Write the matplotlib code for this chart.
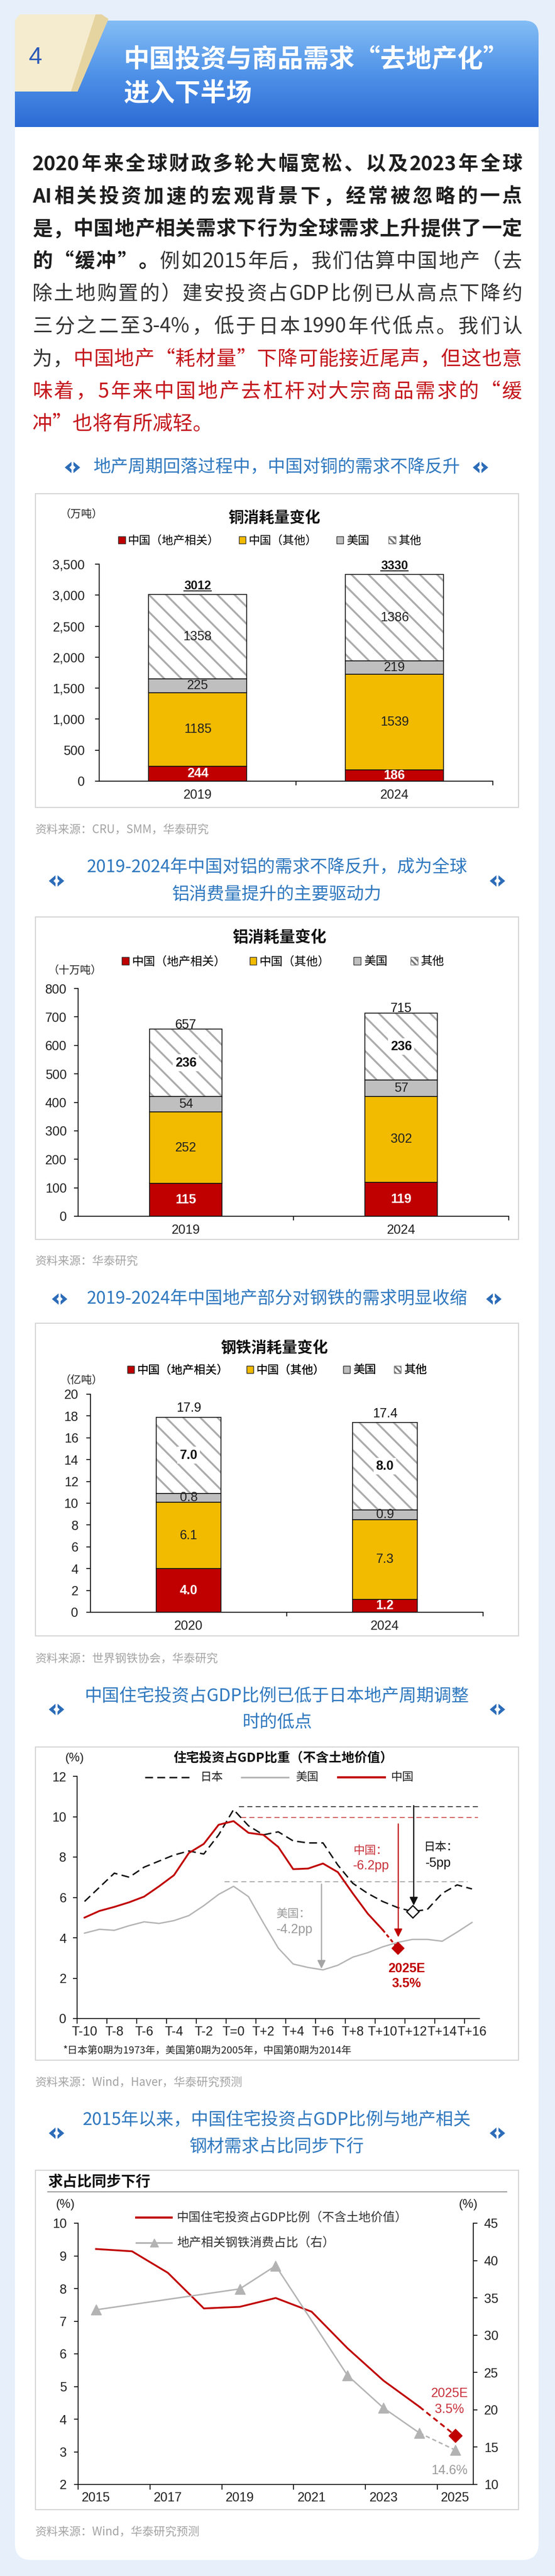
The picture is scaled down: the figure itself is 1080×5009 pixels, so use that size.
import re
import numpy as np
import matplotlib
matplotlib.use('Agg')
import matplotlib.pyplot as plt
from matplotlib.patches import Rectangle, Polygon, FancyBboxPatch, Patch
from matplotlib.colors import LinearSegmentedColormap
from matplotlib.font_manager import FontProperties

plt.rcParams['font.family'] = ['Noto Sans CJK SC', 'DejaVu Sans']
plt.rcParams['hatch.linewidth'] = 2.6
plt.rcParams['axes.unicode_minus'] = False

# ---- data ----
copper_years = ['2019', '2024']
copper_cn_property = [244, 186]
copper_cn_other = [1185, 1539]
copper_us = [225, 219]
copper_rest = [1358, 1386]
copper_total = [3012, 3330]
copper_yticks = [0, 500, 1000, 1500, 2000, 2500, 3000, 3500]

alu_years = ['2019', '2024']
alu_cn_property = [115, 119]
alu_cn_other = [252, 302]
alu_us = [54, 57]
alu_rest = [236, 236]
alu_total = [657, 715]
alu_yticks = [0, 100, 200, 300, 400, 500, 600, 700, 800]

steel_years = ['2020', '2024']
steel_cn_property = [4.0, 1.2]
steel_cn_other = [6.1, 7.3]
steel_us = [0.8, 0.9]
steel_rest = [7.0, 8.0]
steel_total = [17.9, 17.4]
steel_yticks = [0, 2, 4, 6, 8, 10, 12, 14, 16, 18, 20]

bar_legend_labels = ['中国（地产相关）', '中国（其他）', '美国', '其他']

periods = list(range(-10, 17))
japan = [5.8, 6.5, 7.2, 7.0, 7.5, 7.8, 8.1, 8.3, 8.15, 9.1, 10.35, 9.55, 9.1, 9.25,
         8.8, 8.7, 8.7, 7.6, 6.7, 6.2, 5.8, 5.5, 5.3, 5.4, 6.2, 6.62, 6.42]
usa = [4.23, 4.42, 4.37, 4.6, 4.79, 4.71, 4.85, 5.1, 5.59, 6.15, 6.55, 6.04, 4.74, 3.49,
       2.7, 2.53, 2.41, 2.64, 3.04, 3.26, 3.55, 3.77, 3.92, 3.92, 3.83, 4.28, 4.76]
china_periods = list(range(-10, 11))
china = [5.0, 5.33, 5.53, 5.76, 6.04, 6.55, 7.1, 8.2, 8.65, 9.6, 9.78, 9.2, 9.1, 8.5,
         7.4, 7.43, 7.68, 7.25, 6.2, 5.2, 4.4]
china_2025e = (11, 3.5)
japan_low = (12, 5.3)
period_ticks = [-10, -8, -6, -4, -2, 0, 2, 4, 6, 8, 10, 12, 14, 16]
period_labels = ['T-10', 'T-8', 'T-6', 'T-4', 'T-2', 'T=0', 'T+2', 'T+4', 'T+6',
                 'T+8', 'T+10', 'T+12', 'T+14', 'T+16']
japan_peak, china_peak, us_peak = 10.5, 9.95, 6.77

inv_years = [2015, 2016, 2017, 2018, 2019, 2020, 2021, 2022, 2023, 2024]
inv_ratio = [9.21, 9.14, 8.48, 7.39, 7.44, 7.71, 7.29, 6.17, 5.18, 4.38]
inv_2025e = 3.5
steel_share_years = [2015, 2019, 2020, 2022, 2023, 2024]
steel_share = [33.4, 36.2, 39.3, 24.6, 20.25, 16.9]
steel_share_2025e = 14.6
year_ticks = [2015, 2017, 2019, 2021, 2023, 2025]

# ---- style ----
W, H = 1080, 5009
NUM = ['Liberation Sans', 'Noto Sans CJK SC', 'DejaVu Sans']
CJK = ['Noto Sans CJK SC', 'DejaVu Sans']
RED = '#c00000'
GOLD = '#f2bb00'
GREY = '#bfbfbf'
HATCH_C = '#ababab'
BLUE_T = '#2f78bf'
SRC_C = '#a3a3a3'

fig = plt.figure(figsize=(W / 100, H / 100), dpi=100)
fig.patch.set_facecolor('#e6effa')
bg = fig.add_axes([0, 0, 1, 1])
bg.axis('off')
renderer = fig.canvas.get_renderer()

# card + header
bg.add_patch(FancyBboxPatch((29, 80), 1019, 4898, boxstyle='round,pad=0,rounding_size=32',
                            fc='white', ec='none', zorder=1))
grad = np.linspace(0, 1, 256)[:, None]
cmap = LinearSegmentedColormap.from_list('hdr', ['#84bdf5', '#4f92e8', '#2d6bd5'])
im = bg.imshow(grad, extent=(29, 1048, 247, 40), cmap=cmap, aspect='auto', zorder=2)
clip = FancyBboxPatch((29, 40), 1019, 320, boxstyle='round,pad=0,rounding_size=28',
                      fc='none', ec='none', transform=bg.transData)
bg.add_patch(clip)
im.set_clip_path(clip)
bg.add_patch(Polygon([(29, 40), (38, 28), (196, 28), (210, 36), (150, 178), (29, 178)],
                     closed=True, fc='#f5ecd0', ec='none', zorder=3))
bg.add_patch(Polygon([(186, 28), (198, 28), (211, 37), (151, 178), (138, 178)],
                     closed=True, fc='#e6d4a0', ec='none', zorder=3))
bg.text(69, 112, '4', color='#2b59b8', size=34, family=NUM, ha='center', va='center', zorder=4)
bg.text(241, 117, '中国投资与商品需求“去地产化”', color='white', size=36, weight='bold',
        ha='left', va='center', zorder=4)
bg.text(241, 183, '进入下半场', color='white', size=36, weight='bold',
        ha='left', va='center', zorder=4)

# body text, justified
STY = {'b': ('#1e1e1e', 'bold'), 'n': ('#333333', 'normal'), 'r': ('#c4161c', 'normal')}
_adv = {}


def advance(tok, prop):
    key = (tok, str(prop.get_weight()), prop.get_size())
    if key not in _adv:
        w1 = renderer.get_text_width_height_descent('中' + tok + '中', prop, ismath=False)[0]
        w0 = renderer.get_text_width_height_descent('中中', prop, ismath=False)[0]
        _adv[key] = w1 - w0
    return _adv[key]


def draw_line(segs, y, justify=True, x0=63, x1=1016, size=28):
    toks = []
    for text, st in segs:
        col, wt = STY[st]
        prop = FontProperties(family=CJK, size=size, weight=wt)
        for t in re.findall(r'[A-Za-z0-9%.\-]+|.', text):
            toks.append((t, prop, col, advance(t, prop)))
    total = sum(tk[3] for tk in toks)
    gap = (x1 - x0 - total) / (len(toks) - 1) if justify else 0
    x = x0
    for t, prop, col, a in toks:
        bg.text(x, y, t, fontproperties=prop, color=col, ha='left', va='baseline', zorder=4)
        x += a + gap


body = [
    [('2020年来全球财政多轮大幅宽松、以及2023年全球', 'b')],
    [('AI相关投资加速的宏观背景下，经常被忽略的一点', 'b')],
    [('是，中国地产相关需求下行为全球需求上升提供了一定', 'b')],
    [('的“缓冲”。', 'b'), ('例如2015年后，我们估算中国地产（去', 'n')],
    [('除土地购置的）建安投资占GDP比例已从高点下降约', 'n')],
    [('三分之二至3-4%，低于日本1990年代低点。我们认', 'n')],
    [('为，', 'n'), ('中国地产“耗材量”下降可能接近尾声，但这也意', 'r')],
    [('味着，5年来中国地产去杠杆对大宗商品需求的“缓', 'r')],
    [('冲”也将有所减轻。', 'r')],
]
for i, segs in enumerate(body):
    draw_line(segs, 317 + 63.1 * i + 14, justify=(i < len(body) - 1))


def icon(cx, cy):
    c = '#2c6cb8'
    bg.add_patch(Polygon([(cx - 15, cy), (cx - 2, cy - 11), (cx - 2, cy - 4), (cx - 6, cy),
                          (cx - 2, cy + 4), (cx - 2, cy + 11)], closed=True, fc=c, ec='none', zorder=4))
    bg.add_patch(Polygon([(cx + 15, cy), (cx + 2, cy - 11), (cx + 2, cy - 4), (cx + 6, cy),
                          (cx + 2, cy + 4), (cx + 2, cy + 11)], closed=True, fc=c, ec='none', zorder=4))


def subtitle(lines, y0, icons, dy=52):
    for i, s in enumerate(lines):
        bg.text(539, y0 + i * dy, s, color=BLUE_T, size=24.5, ha='center', va='center', zorder=4)
    yc = y0 + dy * (len(lines) - 1) / 2
    for cx in icons:
        icon(cx, yc)


def chart_box(y0, y1):
    bg.add_patch(Rectangle((69, y0), 940, y1 - y0, fc='white', ec='#d4d4d4', lw=1.5, zorder=2))


def source(y, s):
    bg.text(69, y, s, color=SRC_C, size=16, ha='left', va='center', zorder=4)


def px_axes(x0, y0, x1, y1):
    ax = fig.add_axes([x0 / W, 1 - y1 / H, (x1 - x0) / W, (y1 - y0) / H])
    ax.patch.set_alpha(0)
    for s in ['top', 'right']:
        ax.spines[s].set_visible(False)
    for s in ['left', 'bottom']:
        ax.spines[s].set_linewidth(1.3)
        ax.spines[s].set_color('#111')
    ax.tick_params(which='both', direction='out', length=6, width=1.3, color='#111',
                   labelcolor='#222')
    return ax


def bar_legend(cx, cy, size, colsp):
    handles = [Patch(fc=RED, ec='#333', lw=1), Patch(fc=GOLD, ec='#333', lw=1),
               Patch(fc=GREY, ec='#333', lw=1), Patch(fc='white', ec='#777', lw=1, hatch='\\\\\\')]
    leg = bg.legend(handles, bar_legend_labels, loc='center', bbox_to_anchor=(cx, cy),
                    bbox_transform=bg.transData, ncol=4, frameon=False,
                    prop=FontProperties(family=CJK, size=size), handlelength=0.6,
                    handleheight=0.6, handletextpad=0.25, columnspacing=colsp, borderpad=0)
    leg.set_zorder(5)
    bg.add_artist(leg)


def stacked(ax, cats, parts, totals, width, ylim, fmt, rest_bold, total_mode):
    ax.set_xlim(-0.5, 1.5)
    ax.set_ylim(*ylim)
    x = np.arange(len(cats))
    bottom = np.zeros(len(cats))
    for vals, c in zip(parts[:3], [RED, GOLD, GREY]):
        ax.bar(x, vals, width, bottom=bottom, color=c, edgecolor='#111', lw=1.2, zorder=2)
        bottom = bottom + np.array(vals)
    ax.bar(x, parts[3], width, bottom=bottom, color='white', edgecolor=HATCH_C, hatch='\\',
           lw=0, zorder=2)
    ax.bar(x, parts[3], width, bottom=bottom, fill=False, edgecolor='#111', lw=1.2, zorder=3)
    for i in range(len(cats)):
        b = 0
        for k, vals in enumerate(parts):
            v = vals[i]
            yc = b + v / 2
            b += v
            kw = dict(ha='center', va='center', family=NUM, size=18, zorder=5)
            if k == 0:
                ax.text(i, yc, fmt.format(v), color='white', weight='bold', **kw)
            elif k == 3 and rest_bold:
                ax.text(i, yc, fmt.format(v), color='#111', weight='bold',
                        bbox=dict(fc='white', ec='none', pad=3), **kw)
            else:
                ax.text(i, yc, fmt.format(v), color='#222', **kw)
        t = totals[i]
        s = fmt.format(t)
        if total_mode == 'underline':
            # bold label with underline, drawn in page pixels
            px, py = ax.transData.transform((i, t))
            py = H - py
            prop = FontProperties(family=NUM, size=17, weight='bold')
            w = renderer.get_text_width_height_descent(s, prop, ismath=False)[0]
            bg.text(px, py - 10, s, fontproperties=prop, color='#111', ha='center',
                    va='baseline', zorder=5)
            bg.plot([px - w / 2, px + w / 2], [py - 7, py - 7], color='#111', lw=1.4, zorder=5)
        elif total_mode == 'touch':
            ax.annotate(s, (i, t), xytext=(0, 6), textcoords='offset points',
                        ha='center', va='center', size=18, family=NUM, color='#111', zorder=5)
        else:
            ax.annotate(s, (i, t), xytext=(0, 4), textcoords='offset points',
                        ha='center', va='bottom', size=18, family=NUM, color='#111', zorder=5)
    ax.set_xticks(x, cats, family=NUM, size=18)
    ax.set_xticks([0.5, 1.5], minor=True)
    ax.tick_params(axis='x', which='major', length=0, pad=11)


# ---- chart 1: copper ----
subtitle(['地产周期回落过程中，中国对铜的需求不降反升'], 909, [141, 935])
chart_box(960, 1570)
bg.text(158, 1001, '（万吨）', size=15, color='#222', ha='center', va='center', zorder=4)
bg.text(534, 1007, '铜消耗量变化', size=21.5, weight='bold', color='#111',
        ha='center', va='center', zorder=4)
bar_legend(525, 1051, 16, 1.7)
ax1 = px_axes(193, 1097, 959, 1519)
stacked(ax1, copper_years, [copper_cn_property, copper_cn_other, copper_us, copper_rest],
        copper_total, 0.5, (0, 3500), '{:d}', False, 'underline')
ax1.set_yticks(copper_yticks, [f'{v:,}' for v in copper_yticks], family=NUM, size=18)
ax1.tick_params(axis='y', pad=14)
source(1614, '资料来源：CRU，SMM，华泰研究')

# ---- chart 2: aluminium ----
subtitle(['2019-2024年中国对铝的需求不降反升，成为全球', '铝消费量提升的主要驱动力'], 1687, [110, 968])
chart_box(1783, 2410)
bg.text(544, 1823, '铝消耗量变化', size=22, weight='bold', color='#111',
        ha='center', va='center', zorder=4)
bar_legend(551, 1870, 16.5, 2.0)
bg.text(146, 1888, '（十万吨）', size=15, color='#222', ha='center', va='center', zorder=4)
ax2 = px_axes(152, 1922, 990, 2365)
stacked(ax2, alu_years, [alu_cn_property, alu_cn_other, alu_us, alu_rest],
        alu_total, 0.335, (0, 800), '{:d}', True, 'touch')
ax2.set_yticks(alu_yticks, [str(v) for v in alu_yticks], family=NUM, size=18)
ax2.tick_params(axis='y', pad=10)
source(2453, '资料来源：华泰研究')

# ---- chart 3: steel ----
subtitle(['2019-2024年中国地产部分对钢铁的需求明显收缩'], 2526, [116, 961])
chart_box(2573, 3181)
bg.text(534, 2622, '钢铁消耗量变化', size=21.5, weight='bold', color='#111',
        ha='center', va='center', zorder=4)
bar_legend(539, 2664, 16, 1.6)
bg.text(158, 2684, '（亿吨）', size=15, color='#222', ha='center', va='center', zorder=4)
ax3 = px_axes(176, 2711, 940, 3135)
stacked(ax3, steel_years, [steel_cn_property, steel_cn_other, steel_us, steel_rest],
        steel_total, 0.33, (0, 20), '{:.1f}', True, 'above')
ax3.set_yticks(steel_yticks, [str(v) for v in steel_yticks], family=NUM, size=18)
ax3.tick_params(axis='y', pad=11)
source(3226, '资料来源：世界钢铁协会，华泰研究')

# ---- chart 4: residential investment cycles ----
subtitle(['中国住宅投资占GDP比例已低于日本地产周期调整', '时的低点'], 3299, [110, 968], dy=50)
chart_box(3397, 4006)
bg.text(145, 3419, '(%)', size=17, family=NUM, color='#222', ha='center', va='center', zorder=4)
bg.text(551, 3419, '住宅投资占GDP比重（不含土地价值）', size=18, weight='bold', color='#111',
        ha='center', va='center', zorder=4)
bg.plot([282, 375], [3456, 3456], color='#111', lw=2, ls=(0, (5.5, 3)), zorder=4)
bg.text(389, 3456, '日本', size=16, color='#222', ha='left', va='center', zorder=4)
bg.plot([470, 561], [3456, 3456], color='#b3b3b3', lw=2.4, zorder=4)
bg.text(575, 3456, '美国', size=16, color='#222', ha='left', va='center', zorder=4)
bg.plot([658, 749], [3456, 3456], color=RED, lw=3, zorder=4)
bg.text(761, 3456, '中国', size=16, color='#222', ha='left', va='center', zorder=4)
bg.text(123, 3987, '*日本第0期为1973年，美国第0期为2005年，中国第0期为2014年', size=14,
        color='#222', ha='left', va='center', zorder=4)

ax4 = px_axes(150, 3454, 933, 3925)
ax4.plot(periods, usa, color='#b3b3b3', lw=1.9, zorder=2)
ax4.plot(periods, japan, color='#111', lw=2, ls=(0, (5.5, 3)), zorder=3)
ax4.plot(china_periods, china, color=RED, lw=2.5, zorder=4)
ax4.plot([china_periods[-1], china_2025e[0]], [china[-1], china_2025e[1]], color=RED, lw=2.5,
         ls=(0, (2, 1.5)), zorder=4)
ax4.plot(*china_2025e, marker='D', ms=12, color=RED, zorder=6)
ax4.plot(*japan_low, marker='D', ms=12, mfc='white', mec='#111', mew=1.8, zorder=6)
ax4.plot([0.35, 16.5], [japan_peak, japan_peak], color='#333', lw=1.3, ls=(0, (5.5, 3.5)))
ax4.plot([0.5, 16.4], [china_peak, china_peak], color='#d05050', lw=1.3, ls=(0, (5.5, 3.5)))
ax4.plot([-0.6, 15.7], [us_peak, us_peak], color='#a5a5a5', lw=1.3, ls=(0, (5.5, 3.5)))
arrow = dict(arrowstyle='-|>', lw=1.6, mutation_scale=24, shrinkA=0, shrinkB=0)
ax4.annotate('', xy=(12.09, 5.6), xytext=(12.09, 10.55), arrowprops=dict(color='#111', **arrow), zorder=5)
ax4.annotate('', xy=(11.05, 4.03), xytext=(11.05, 9.64), arrowprops=dict(color=RED, **arrow), zorder=5)
ax4.annotate('', xy=(5.9, 2.47), xytext=(5.9, 6.66), arrowprops=dict(color='#a5a5a5', **arrow), zorder=5)
ax4.text(13.9, 8.49, '日本：', size=16, color='#111', ha='center', va='center')
ax4.text(13.75, 7.69, '-5pp', size=18, family=NUM, color='#111', ha='center', va='center')
ax4.text(9.2, 8.33, '中国：', size=16, color='#c8323c', ha='center', va='center')
ax4.text(9.25, 7.56, '-6.2pp', size=18, family=NUM, color='#c8323c', ha='center', va='center')
ax4.text(4.0, 5.19, '美国：', size=16, color='#9a9a9a', ha='center', va='center')
ax4.text(4.1, 4.4, '-4.2pp', size=18, family=NUM, color='#9a9a9a', ha='center', va='center')
ax4.text(11.6, 2.47, '2025E', size=18, family=NUM, weight='bold', color=RED, ha='center', va='center')
ax4.text(11.6, 1.73, '3.5%', size=18, family=NUM, weight='bold', color=RED, ha='center', va='center')
ax4.set_xlim(-10.5, 16.5)
ax4.set_ylim(0, 12)
ax4.set_xticks(period_ticks, period_labels, family=NUM, size=18)
ax4.set_xticks(np.arange(-10.5, 16, 2), minor=True)
ax4.tick_params(axis='x', which='major', length=0, pad=10)
ax4.tick_params(axis='x', which='minor', length=7)
ax4.set_yticks(range(0, 13, 2), [str(v) for v in range(0, 13, 2)], family=NUM, size=18)
ax4.tick_params(axis='y', pad=9)
source(4050, '资料来源：Wind，Haver，华泰研究预测')

# ---- chart 5: investment vs steel share ----
subtitle(['2015年以来，中国住宅投资占GDP比例与地产相关', '钢材需求占比同步下行'], 4122, [110, 968])
chart_box(4220, 4880)
bg.text(93, 4243, '求占比同步下行', size=20.5, weight='bold', color='#111',
        ha='left', va='center', zorder=4)
bg.plot([93, 986], [4262, 4262], color='#9a9a9a', lw=1.5, zorder=4)
bg.text(127, 4287, '(%)', size=17, family=NUM, color='#222', ha='center', va='center', zorder=4)
bg.text(911, 4287, '(%)', size=17, family=NUM, color='#222', ha='center', va='center', zorder=4)
bg.plot([265, 334], [4312, 4312], color=RED, lw=3, zorder=4)
bg.text(344, 4312, '中国住宅投资占GDP比例（不含土地价值）', size=17, color='#333',
        ha='left', va='center', zorder=4)
bg.plot([265, 334], [4361, 4361], color='#b3b3b3', lw=2.4, zorder=4)
bg.plot([300], [4361], marker='^', ms=11, color='#b3b3b3', zorder=4)
bg.text(344, 4361, '地产相关钢铁消费占比（右）', size=17, color='#333',
        ha='left', va='center', zorder=4)

ax5 = px_axes(152, 4323, 921, 4831)
ax5r = ax5.twinx()
ax5r.patch.set_alpha(0)
ax5r.spines['top'].set_visible(False)
ax5r.spines['left'].set_visible(False)
ax5r.spines['bottom'].set_visible(False)
ax5r.spines['right'].set_linewidth(1.3)
ax5r.spines['right'].set_color('#111')
ax5r.plot(steel_share_years, steel_share, color='#b3b3b3', lw=2, marker='^', ms=15, zorder=3)
ax5r.plot([steel_share_years[-1], 2025], [steel_share[-1], steel_share_2025e], color='#b3b3b3',
          lw=2, ls=(0, (3, 2)), zorder=3)
ax5r.plot([2025], [steel_share_2025e], marker='^', ms=15, color='#b3b3b3', zorder=3)
ax5r.set_ylim(10, 45)
ax5r.set_yticks(range(10, 46, 5), [str(v) for v in range(10, 46, 5)], family=NUM, size=18)
ax5r.tick_params(axis='y', direction='out', length=6, width=1.3, color='#111',
                 labelcolor='#222', pad=9)
ax5.plot(inv_years, inv_ratio, color=RED, lw=2.5, zorder=4)
ax5.plot([inv_years[-1], 2025], [inv_ratio[-1], inv_2025e], color=RED, lw=2.5,
         ls=(0, (3, 2)), zorder=4)
ax5.plot([2025], [inv_2025e], marker='D', ms=13, color=RED, zorder=5)
ax5.text(2024.84, 4.78, '2025E', size=18, family=NUM, color='#c8323c', ha='center', va='center')
ax5.text(2024.84, 4.3, '3.5%', size=18, family=NUM, color='#c8323c', ha='center', va='center')
ax5.text(2024.84, 2.42, '14.6%', size=18, family=NUM, color='#9a9a9a', ha='center', va='center')
ax5.set_xlim(2014.5, 2025.5)
ax5.set_ylim(2, 10)
ax5.set_xticks(year_ticks, [str(v) for v in year_ticks], family=NUM, size=18)
ax5.set_xticks(np.arange(2014.5, 2025, 2), minor=True)
ax5.tick_params(axis='x', which='major', length=0, pad=10)
ax5.tick_params(axis='x', which='minor', length=7)
ax5.set_yticks(range(2, 11), [str(v) for v in range(2, 11)], family=NUM, size=18)
ax5.tick_params(axis='y', pad=10)
source(4924, '资料来源：Wind，华泰研究预测')

bg.set_xlim(0, W)
bg.set_ylim(H, 0)
fig.savefig('out.png', dpi=100, facecolor=fig.get_facecolor())
